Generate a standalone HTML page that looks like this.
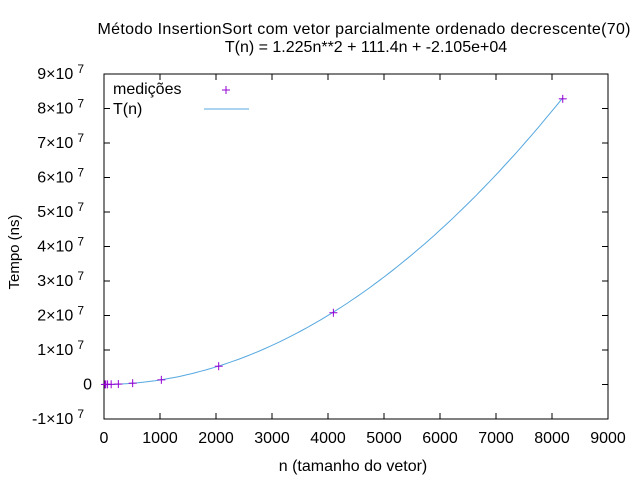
<!DOCTYPE html>
<html><head><meta charset="utf-8"><style>
body{margin:0;background:#fff}
svg text{font-family:"Liberation Sans",sans-serif;font-size:16px;fill:#000}
</style></head><body>
<svg width="640" height="480" id="c">
<rect width="640" height="480" fill="#fff"/>
<text x="364" y="34" text-anchor="middle" textLength="533">Método InsertionSort com vetor parcialmente ordenado decrescente(70)</text>
<text x="366" y="52" text-anchor="middle">T(n) = 1.225n**2 + 111.4n + -2.105e+04</text>
<text x="0" y="0" transform="translate(19,252) rotate(-90)" text-anchor="middle" style="font-size:15px">Tempo (ns)</text>
<text x="353" y="471" text-anchor="middle">n (tamanho do vetor)</text>
<g id="axes"></g>
<rect x="104" y="74" width="504" height="345" fill="none" stroke="#000"/>
<g id="series"></g>
<text x="113" y="94">medições</text>
<text x="113" y="114">T(n)</text>
<line x1="204" y1="109" x2="249" y2="109" stroke="#56a8e0"/>
<g stroke="#9400d3"><line x1="222" y1="90" x2="230" y2="90"/><line x1="226" y1="86" x2="226" y2="94"/></g>
</svg>
<script>
const xTicks=[0,1000,2000,3000,4000,5000,6000,7000,8000,9000];
const yTicks=[-1,0,1,2,3,4,5,6,7,8,9];
const nValues=[16,32,64,128,256,512,1024,2048,4096,8192];
const timeValues=[2.0e4,3.0e4,3.5e4,6.0e4,1.3e5,3.8e5,1.35e6,5.3e6,2.08e7,8.28e7];
const fitCoef=[1.225,111.4,-21050];
const X0=104,X1=608,Y0=419,Y1=74;
const sx=v=>X0+(v-0)/9000*(X1-X0);
const sy=v=>Y0-(v+1e7)/1e8*(Y0-Y1);
const NS="http://www.w3.org/2000/svg";
const ax=document.getElementById('axes'),se=document.getElementById('series');
function mk(p,t,a){const e=document.createElementNS(NS,t);for(const k in a)e.setAttribute(k,a[k]);p.appendChild(e);return e;}
xTicks.forEach(t=>{const x=sx(t);
const a=mk(ax,'line',{x1:x,y1:Y0,x2:x,y2:Y0-6,stroke:'#000'});


mk(ax,'line',{x1:x,y1:Y1,x2:x,y2:Y1+6,stroke:'#000'});
const tx=mk(ax,'text',{x:x,y:443,'text-anchor':'middle','font-size':'15'});tx.textContent=t;

});
yTicks.forEach(t=>{const y=sy(t*1e7);
const a=mk(ax,'line',{x1:X0,y1:y,x2:X0+6,y2:y,stroke:'#000'});


mk(ax,'line',{x1:X1,y1:y,x2:X1-6,y2:y,stroke:'#000'});
const tx=mk(ax,'text',{x:t===0?92:84,y:y+5,'text-anchor':'end','font-size':'15'});
if(t===0)tx.textContent='0';else{tx.textContent=t+'×10';const s=mk(tx,'tspan',{dx:4,dy:-6,'font-size':'12'});s.textContent='7';}

});
let d='';for(let i=0;i<=100;i++){const n=nValues[0]+(nValues[nValues.length-1]-nValues[0])*i/100;
const v=fitCoef[0]*n*n+fitCoef[1]*n+fitCoef[2];d+=(i?'L':'M')+sx(n).toFixed(1)+' '+sy(v).toFixed(1);}
const fl=mk(se,'path',{d:d,fill:'none',stroke:'#56a8e0'});


nValues.forEach((n,i)=>{const x=sx(n),y=sy(timeValues[i]);
const g=mk(se,'g',{stroke:'#9400d3'});


mk(g,'line',{x1:x-4,y1:y,x2:x+4,y2:y});mk(g,'line',{x1:x,y1:y-4,x2:x,y2:y+4});});
</script>
</body></html>
